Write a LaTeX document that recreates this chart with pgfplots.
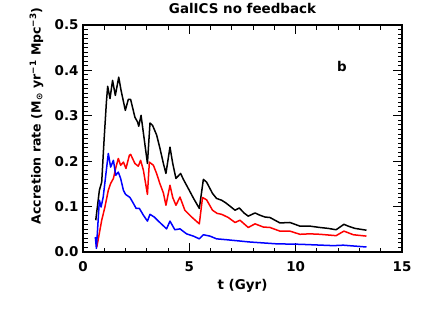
\documentclass[border=0pt]{standalone}
\usepackage{fontspec}
\setmainfont{DejaVu Sans}
\usepackage{pgfplots}
\pgfplotsset{compat=1.18}
\newcommand{\lblfont}{\fontsize{13.5}{16}\selectfont\bfseries}
\begin{document}
\begin{tikzpicture}
\begin{axis}[
  scale only axis, width=319bp, height=227bp,
  at={(0,0)}, anchor=south west,
  xmin=0, xmax=15, ymin=0, ymax=0.5,
  xtick={0,5,10,15}, minor x tick num=4,
  ytick={0,0.1,0.2,0.3,0.4,0.5}, minor y tick num=9,
  tick align=inside, xtick pos=both, ytick pos=both,
  major tick length=9bp, minor tick length=4.5bp,
  axis line style={line width=1.2bp},
  every tick/.style={line width=0.9bp, black},
  /pgf/number format/assume math mode=true,
  tick label style={font=\lblfont},
  yticklabel style={/pgf/number format/fixed,/pgf/number format/fixed zerofill,/pgf/number format/precision=1, xshift=-1bp},
  xticklabel style={yshift=-6bp},
  xlabel={t (Gyr)},
  xlabel style={font=\lblfont, at={(axis description cs:0.5,-0.15)}, anchor=center},
  ylabel={Accretion rate (M\textsubscript{⊙} yr\textsuperscript{−1} Mpc\textsuperscript{−3})},
  ylabel style={font=\fontsize{12.6}{15}\selectfont\bfseries, at={(axis description cs:-0.146,0.60)}, anchor=center},
  title={GalICS no feedback},
  title style={font=\lblfont, at={(axis description cs:0.5,1.045)}, anchor=center},
  every axis plot/.append style={line width=1.5bp, line join=round},
]
\addplot[black] coordinates {
(0.60,0.070) (0.77,0.136) (0.88,0.154) (0.99,0.246) (1.10,0.330) (1.16,0.365)
(1.27,0.338) (1.39,0.378) (1.52,0.345) (1.68,0.385) (1.79,0.356) (1.99,0.312)
(2.13,0.336) (2.24,0.336) (2.44,0.297) (2.57,0.286) (2.62,0.277) (2.73,0.301)
(3.03,0.195) (3.15,0.284) (3.27,0.279) (3.46,0.258) (3.62,0.228) (3.78,0.195)
(3.90,0.173) (4.09,0.231) (4.22,0.195) (4.37,0.162) (4.59,0.173) (4.72,0.160)
(4.95,0.140) (5.20,0.118) (5.47,0.096) (5.66,0.160) (5.81,0.154) (6.09,0.129)
(6.28,0.118) (6.52,0.114) (6.72,0.108) (6.91,0.101) (7.15,0.092) (7.35,0.097)
(7.57,0.086) (7.77,0.079) (8.09,0.086) (8.32,0.081) (8.56,0.077) (8.79,0.076)
(9.26,0.064) (9.73,0.065) (10.20,0.057) (10.67,0.057) (11.14,0.054) (11.53,0.052)
(11.90,0.049) (12.27,0.061) (12.47,0.057) (12.79,0.052) (13.33,0.048)
};
\addplot[red] coordinates {
(0.60,0.030) (0.65,0.011) (0.88,0.070) (1.03,0.099) (1.19,0.136) (1.30,0.151)
(1.43,0.162) (1.55,0.187) (1.66,0.206) (1.77,0.191) (1.90,0.198) (2.02,0.184)
(2.18,0.213) (2.24,0.215) (2.44,0.195) (2.60,0.189) (2.71,0.202) (2.84,0.180)
(3.03,0.127) (3.12,0.198) (3.31,0.191) (3.46,0.173) (3.62,0.150) (3.78,0.130)
(3.90,0.103) (4.09,0.147) (4.22,0.120) (4.37,0.103) (4.56,0.121) (4.79,0.092)
(5.11,0.077) (5.47,0.062) (5.62,0.120) (5.81,0.115) (6.09,0.092) (6.31,0.085)
(6.52,0.083) (6.83,0.076) (7.15,0.065) (7.38,0.070) (7.77,0.054) (8.09,0.062)
(8.48,0.055) (8.79,0.054) (9.26,0.046) (9.73,0.046) (10.20,0.039) (10.67,0.040)
(11.14,0.039) (11.90,0.036) (12.27,0.046) (12.71,0.038) (13.33,0.035)
};
\addplot[blue] coordinates {
(0.58,0.033) (0.63,0.008) (0.77,0.114) (0.85,0.099) (0.95,0.121) (1.19,0.217)
(1.30,0.187) (1.43,0.202) (1.54,0.169) (1.66,0.176) (1.77,0.162) (1.90,0.136)
(2.00,0.127) (2.21,0.120) (2.37,0.107) (2.50,0.096) (2.65,0.096) (2.84,0.081)
(3.03,0.068) (3.15,0.083) (3.35,0.077) (3.59,0.066) (3.93,0.051) (4.09,0.068)
(4.32,0.049) (4.56,0.051) (4.87,0.040) (5.19,0.035) (5.47,0.029) (5.66,0.038)
(5.97,0.035) (6.28,0.029) (6.76,0.027) (7.85,0.022) (9.10,0.018) (10.20,0.017)
(11.77,0.014) (12.24,0.015) (13.33,0.011)
};
\node[font=\lblfont] at (axis cs:12.18,0.409) {b};
\end{axis}
\pgfresetboundingbox
\path[use as bounding box] (-83bp,-60bp) rectangle (354bp,252bp);
\end{tikzpicture}
\end{document}
